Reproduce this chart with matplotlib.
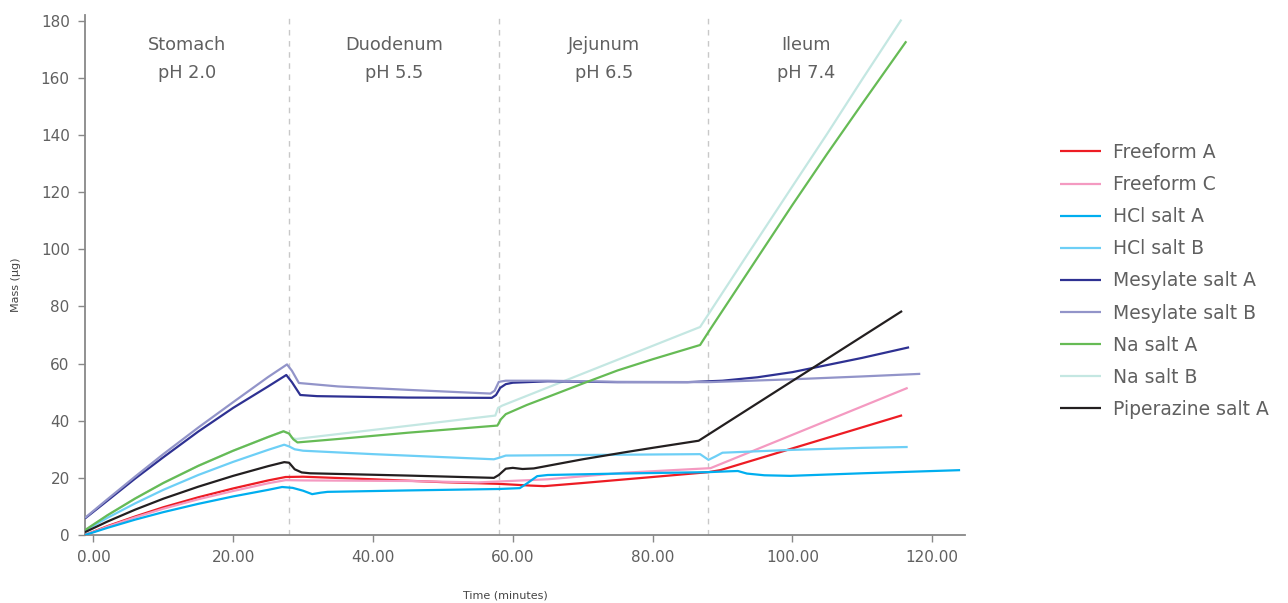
import matplotlib
matplotlib.use("Agg")
import matplotlib.pyplot as plt

# ---- data: time (minutes) and dissolved mass (µg) per form ----
freeform_a_t = [-1.2, 2, 6, 10, 15, 20, 25, 27.5, 30, 40, 50, 58, 62.5, 64.5, 70, 80, 88, 89.7, 115.7]
freeform_a_v = [0, 3.1, 6.5, 9.7, 13.2, 16.3, 19.1, 20.3, 20.4, 19.5, 18.5, 17.9, 17.3, 17.1, 18.2, 20.3, 22.0, 22.7, 41.9]

freeform_c_t = [-1.2, 2, 6, 10, 15, 20, 25, 27.5, 30, 45, 55, 65, 76, 88.3, 116.5]
freeform_c_v = [0, 2.9, 6.2, 9.2, 12.5, 15.4, 18.1, 19.2, 19.1, 18.9, 18.4, 19.5, 21.8, 23.4, 51.5]

hcl_a_t = [-1.2, 2, 6, 10, 15, 20, 25, 27, 28.5, 30, 31.3, 32.5, 33.5, 45, 58, 61, 62, 63.5, 65, 75, 88, 91, 92.2, 93.5, 96, 99.7, 110, 124]
hcl_a_v = [0, 2.5, 5.4, 8.0, 10.9, 13.5, 15.8, 16.8, 16.5, 15.5, 14.3, 14.8, 15.1, 15.6, 16.1, 16.4, 18.0, 20.6, 21.0, 21.5, 22.0, 22.3, 22.4, 21.5, 20.9, 20.7, 21.6, 22.7]

hcl_b_t = [-1.2, 2, 6, 10, 15, 20, 25, 27.3, 28, 28.8, 30, 40, 57.3, 58, 59, 70, 86.8, 88, 89, 90, 100, 110, 116.5]
hcl_b_v = [1.5, 6.0, 11.1, 15.8, 21.0, 25.6, 29.8, 31.6, 31.0, 30.0, 29.5, 28.3, 26.5, 27.0, 27.8, 28.0, 28.3, 26.3, 27.5, 28.8, 29.8, 30.5, 30.8]

mesylate_a_t = [-1.2, 2, 6, 10, 15, 20, 25, 27.6, 28.4, 29.6, 32, 45, 57, 57.6, 58.2, 59, 60, 65, 75, 85, 90, 95, 100, 105, 110, 116.7]
mesylate_a_v = [5.8, 12.0, 19.8, 27.2, 36.2, 44.5, 52.0, 56.0, 53.5, 49.0, 48.6, 48.1, 48.0, 49.0, 51.5, 52.8, 53.3, 53.8, 53.5, 53.5, 54.0, 55.2, 57.0, 59.5, 62.0, 65.7]

mesylate_b_t = [-1.2, 2, 6, 10, 15, 20, 25, 27.7, 28.4, 29.4, 35, 45, 56.8, 57.4, 58, 59, 65, 75, 88, 100, 110, 118.3]
mesylate_b_v = [6.0, 12.5, 20.5, 28.3, 37.6, 46.5, 55.3, 59.7, 57.5, 53.2, 52.0, 50.8, 49.5, 50.5, 53.6, 54.0, 54.0, 53.6, 53.5, 54.5, 55.5, 56.4]

na_a_t = [-1.2, 2, 6, 10, 15, 20, 25, 27.2, 28, 28.6, 29.2, 35, 45, 57.8, 58.3, 59, 62, 65, 70, 75, 80, 86.8, 88.3, 95, 100, 105, 110, 116.3]
na_a_v = [1.7, 6.9, 12.8, 18.2, 24.2, 29.5, 34.3, 36.3, 35.5, 33.5, 32.4, 33.6, 35.8, 38.3, 40.5, 42.3, 45.5, 48.3, 53.0, 57.6, 61.5, 66.5, 72.2, 97.0, 115.5, 133.5, 151.0, 172.8]

na_b_t = [-1.2, 2, 6, 10, 15, 20, 25, 27.2, 28, 28.4, 29, 57.5, 57.9, 58.5, 86.8, 93, 100, 105, 110, 115.6]
na_b_v = [1.7, 6.9, 12.8, 18.2, 24.2, 29.5, 34.3, 36.3, 35.5, 34.0, 33.6, 41.8, 44.5, 45.3, 72.8, 96.0, 122.0, 140.5, 159.5, 180.4]

piperazine_a_t = [-1.2, 2, 6, 10, 15, 20, 25, 27.3, 28, 28.8, 29.8, 31, 45, 57.3, 58, 59, 60, 61.4, 63, 70, 76.4, 80, 86.6, 115.7]
piperazine_a_v = [1.0, 4.7, 8.9, 12.7, 16.9, 20.7, 24.1, 25.5, 25.3, 23.0, 21.9, 21.6, 20.8, 20.0, 21.0, 23.2, 23.5, 23.1, 23.3, 26.5, 29.1, 30.5, 33.0, 78.4]

series_names = ["Freeform A", "Freeform C", "HCl salt A", "HCl salt B",
                "Mesylate salt A", "Mesylate salt B", "Na salt A", "Na salt B",
                "Piperazine salt A"]

phase_bounds = [28, 58, 88]
phase_labels = ["Stomach\npH 2.0", "Duodenum\npH 5.5", "Jejunum\npH 6.5", "Ileum\npH 7.4"]
phase_centers = [13.4, 43, 73, 102]

x_ticks = [0, 20, 40, 60, 80, 100, 120]
y_ticks = [0, 20, 40, 60, 80, 100, 120, 140, 160, 180]

# ---- styling ----
series = [
    (freeform_a_t, freeform_a_v, "#ed1c24", 3),
    (freeform_c_t, freeform_c_v, "#f49ac1", 3),
    (hcl_a_t, hcl_a_v, "#00aeef", 3),
    (hcl_b_t, hcl_b_v, "#6dcff6", 3),
    (mesylate_a_t, mesylate_a_v, "#2e3192", 3),
    (mesylate_b_t, mesylate_b_v, "#9294c9", 3),
    (na_a_t, na_a_v, "#66bb55", 3),
    (na_b_t, na_b_v, "#c4e7e2", 2.5),
    (piperazine_a_t, piperazine_a_v, "#231f20", 3),
]

text_color = "#606060"
plt.rcParams["font.family"] = ["DejaVu Sans"]

fig = plt.figure(figsize=(12.88, 6.03), dpi=100)
ax = fig.add_axes([85 / 1288, 1 - 535 / 603, (965 - 85) / 1288, (535 - 15) / 603])

handles = []
for (t, v, color, z), name in zip(series, series_names):
    h, = ax.plot(t, v, color=color, lw=1.6, label=name, zorder=z,
                 solid_joinstyle="round", solid_capstyle="butt")
    handles.append(h)

for b in phase_bounds:
    ax.axvline(b, color="#c8c8c8", lw=1.0, dashes=(4, 4), zorder=1)

for c, lbl in zip(phase_centers, phase_labels):
    ax.text(c, 174.6, lbl, ha="center", va="top", fontsize=12.8,
            color=text_color, linespacing=1.7)

ax.set_xlim(-1.2, 124.7)
ax.set_ylim(0, 182)
ax.set_xticks(x_ticks)
ax.set_xticklabels([f"{x:.2f}" for x in x_ticks])
ax.set_yticks(y_ticks)

for s in ("top", "right"):
    ax.spines[s].set_visible(False)
for s in ("left", "bottom"):
    ax.spines[s].set_color("#888888")
    ax.spines[s].set_linewidth(1.3)
ax.tick_params(axis="both", colors="#888888", labelcolor=text_color,
               labelsize=11, length=5, width=1)
ax.tick_params(axis="y", pad=6)
ax.tick_params(axis="x", pad=6)

fig.text(16 / 1288, 1 - 285 / 603, "Mass (µg)", rotation=90, ha="center",
         va="center", fontsize=8, color="#444444")
fig.text(505 / 1288, 1 - 595 / 603, "Time (minutes)", ha="center",
         va="center", fontsize=8, color="#444444")

fig.legend(handles=handles, loc="center left",
           bbox_to_anchor=(1060 / 1288, 1 - 281 / 603),
           frameon=False, fontsize=13.5, labelcolor=text_color,
           handlelength=2.2, handletextpad=0.65, labelspacing=0.70,
           borderpad=0, borderaxespad=0)

fig.savefig("out.png", dpi=100)
